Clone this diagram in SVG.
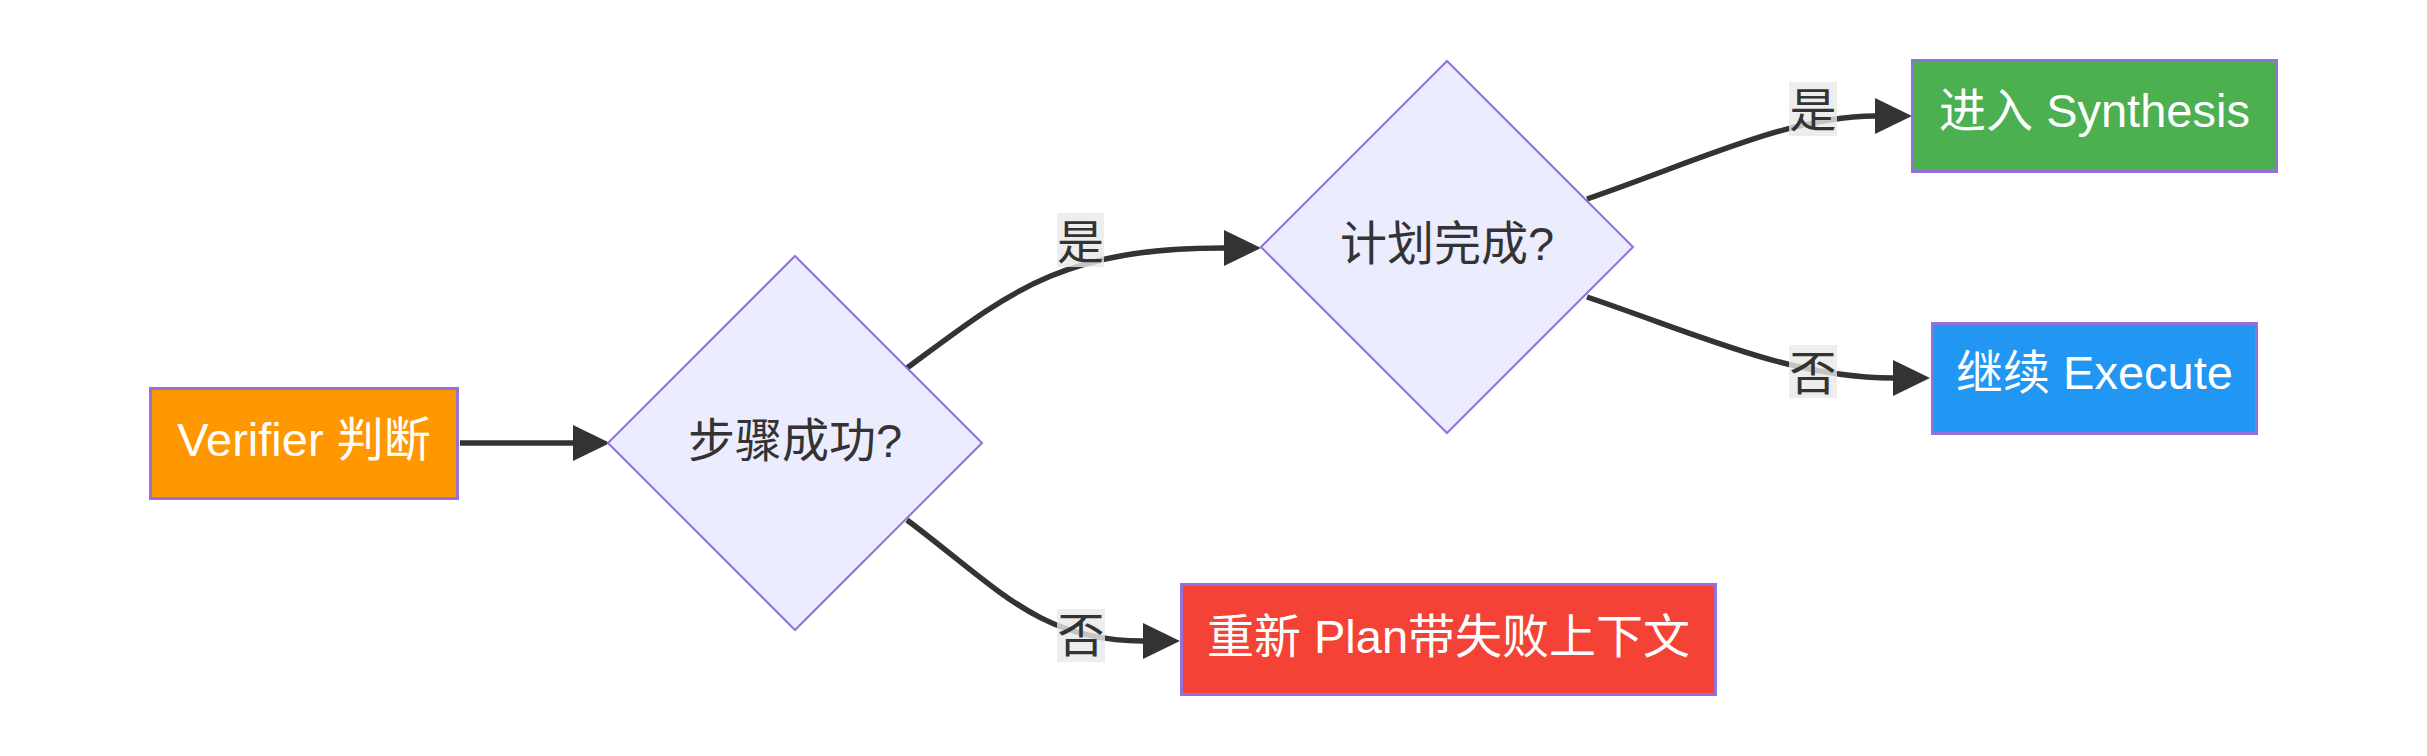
<svg xmlns="http://www.w3.org/2000/svg" width="2427" height="756" viewBox="0 0 2427 756">
<style>
  .box { stroke: #9370DB; stroke-width: 3; }
  .dia { fill: #ECECFF; stroke: #9370DB; stroke-width: 2; }
  .t { font-family: "Liberation Sans", "Noto Sans CJK SC", sans-serif; font-size: 47px; text-anchor: middle; }
  .w { fill: #ffffff; }
  .d { fill: #333333; }
  .edge { fill: none; stroke: #333333; stroke-width: 5.5; }
  .lbg { fill: #e8e8e8; fill-opacity: 0.8; }
</style>
<defs>
  <marker id="arr" markerUnits="userSpaceOnUse" viewBox="0 0 37 36" markerWidth="37" markerHeight="36" refX="0" refY="18" orient="auto" overflow="visible">
    <path d="M0,0 L37,18 L0,36 z" fill="#333333"/>
  </marker>
</defs>
<rect width="2427" height="756" fill="#ffffff"/>

<g id="edges">
  <path class="edge" d="M460,443 L573,443" marker-end="url(#arr)"/>
  <path class="edge" d="M907,368 C1010,292 1060,248 1224,248" marker-end="url(#arr)"/>
  <path class="edge" d="M907,520 C1000,590 1040,641 1143,641" marker-end="url(#arr)"/>
  <path class="edge" d="M1587,199 C1700,160 1790,116 1875,116" marker-end="url(#arr)"/>
  <path class="edge" d="M1587,297 C1700,335 1790,378 1893,378" marker-end="url(#arr)"/>
</g>

<g id="edge-labels">
  <g id="label-yes-1">
    <rect class="lbg" x="1057" y="213" width="47" height="54"/>
    <text class="t d" x="1080.5" y="259">是</text>
  </g>
  <g id="label-no-1">
    <rect class="lbg" x="1057" y="609" width="48" height="53"/>
    <text class="t d" x="1081" y="652">否</text>
  </g>
  <g id="label-yes-2">
    <rect class="lbg" x="1789" y="82" width="48" height="54"/>
    <text class="t d" x="1813" y="127">是</text>
  </g>
  <g id="label-no-2">
    <rect class="lbg" x="1789" y="345" width="48" height="53"/>
    <text class="t d" x="1813" y="390">否</text>
  </g>
</g>

<g id="verifier">
  <rect class="box" x="150.5" y="388.5" width="307" height="110" fill="#ff9800"/>
  <text class="t w" x="304" y="456">Verifier 判断</text>
</g>

<g id="step-ok">
  <polygon class="dia" points="795,256 982,443 795,630 608,443"/>
  <text class="t d" x="795" y="457">步骤成功?</text>
</g>

<g id="plan-done">
  <polygon class="dia" points="1447,61 1633,247 1447,433 1261,247"/>
  <text class="t d" x="1447" y="260">计划完成?</text>
</g>

<g id="synthesis">
  <rect class="box" x="1912.5" y="60.5" width="364" height="111" fill="#4caf50"/>
  <text class="t w" x="2094.5" y="127">进入 Synthesis</text>
</g>

<g id="execute">
  <rect class="box" x="1932.5" y="323.5" width="324" height="110" fill="#2196f3"/>
  <text class="t w" x="2094.5" y="389">继续 Execute</text>
</g>

<g id="replan">
  <rect class="box" x="1181.5" y="584.5" width="534" height="110" fill="#f44336"/>
  <text class="t w" x="1448.5" y="653">重新 Plan带失败上下文</text>
</g>
</svg>
